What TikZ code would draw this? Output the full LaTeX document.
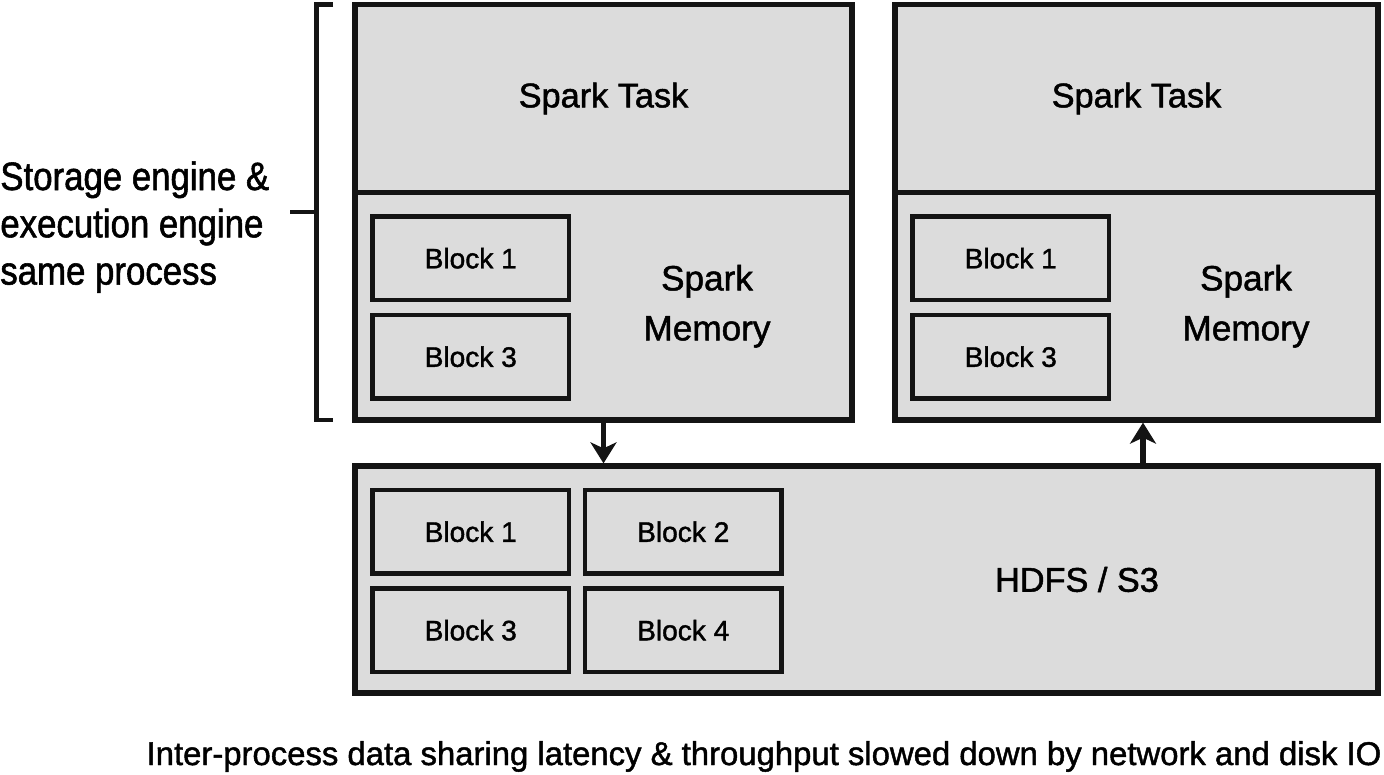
\documentclass[tikz,border=0pt]{standalone}
\usepackage{fontspec}
\setmainfont{Liberation Sans}[FakeBold=1.4]
\newfontfamily\sidefont{Liberation Sans}[FakeStretch=0.88, FakeBold=1.4]
\usepackage{xcolor}
\usepackage{tikz}
\usetikzlibrary{positioning, arrows.meta}
\definecolor{boxgray}{RGB}{220,220,220}
\definecolor{ink}{RGB}{20,20,20}
\tikzstyle{panel} = [rectangle, fill=boxgray, draw=ink, line width=3.4pt, outer sep=0pt, inner sep=0pt, font=\fontsize{19.5}{24}\selectfont]
\tikzstyle{blockbox} = [rectangle, minimum width=3.93cm, minimum height=1.67cm, draw=ink, line width=2.4pt, outer sep=0pt, text centered, font=\fontsize{16}{19}\selectfont]
\tikzstyle{memtext} = [align=center, font=\fontsize{20}{28.4}\selectfont]
\tikzstyle{arrow} = [ink, line width=3pt, shorten >=1.5pt, -{Stealth[length=0.42cm, width=0.52cm, inset=0.12cm]}]
\tikzstyle{bracketline} = [ink, line width=2.4pt]

\begin{document}
\begin{tikzpicture}[node distance=0.3cm]
\useasboundingbox (0,0) rectangle (27.68,-15.5);

% Nodes
\node (ltask) [panel, minimum width=9.94cm, minimum height=3.76cm, anchor=north west] at (7.10,-0.09) {Spark Task};
\node (lmem) [panel, minimum width=9.94cm, minimum height=4.55cm, below=0cm of ltask] {};
\node (rtask) [panel, minimum width=9.66cm, minimum height=3.76cm, anchor=north west] at (17.90,-0.09) {Spark Task};
\node (rmem) [panel, minimum width=9.66cm, minimum height=4.55cm, below=0cm of rtask] {};
\node (hdfs) [panel, minimum width=20.46cm, minimum height=4.54cm, anchor=north west] at (7.10,-9.32) {};

\node (lblk1) [blockbox, anchor=north west] at ([xshift=0.35cm, yshift=-0.48cm]lmem.north west) {Block 1};
\node (lblk3) [blockbox, below=of lblk1] {Block 3};
\node (lspark) [memtext] at ([xshift=2.07cm]lmem.center) {Spark\\Memory};

\node (rblk1) [blockbox, anchor=north west] at ([xshift=0.35cm, yshift=-0.48cm]rmem.north west) {Block 1};
\node (rblk3) [blockbox, below=of rblk1] {Block 3};
\node (rspark) [memtext] at ([xshift=2.19cm]rmem.center) {Spark\\Memory};

\node (hblk1) [blockbox, anchor=north west] at ([xshift=0.35cm, yshift=-0.48cm]hdfs.north west) {Block 1};
\node (hblk2) [blockbox, right=0.32cm of hblk1] {Block 2};
\node (hblk3) [blockbox, below=of hblk1] {Block 3};
\node (hblk4) [blockbox, below=of hblk2] {Block 4};
\node (hdfslabel) [font=\fontsize{19.5}{24}\selectfont] at ([xshift=4.21cm]hdfs.center) {HDFS / S3};

\node (side) [anchor=north west, inner sep=0pt, align=left, font=\sidefont\fontsize{22.5}{26.9}\selectfont] at (0,-3.22) {Storage engine \&\\execution engine\\same process};
\node (caption) [anchor=base, font=\fontsize{18.7}{22}\selectfont] at (15.28,-15.30) {Inter-process data sharing latency \& throughput slowed down by network and disk IO};

% Bracket
\coordinate (bmid) at (6.33,-4.245);
\draw [bracketline] ([xshift=-0.44cm]ltask.north west) -- ++(-0.33,0) |- ([xshift=-0.44cm]lmem.south west);
\draw [bracketline] (bmid) -- ++(-0.53,0);

% Arrows
\coordinate (upstart) at ([xshift=0.13cm]rmem.south);
\draw [arrow] (lmem.south) -- (lmem.south |- hdfs.north);
\draw [arrow] (upstart |- hdfs.north) -- (upstart);

\end{tikzpicture}
\end{document}
